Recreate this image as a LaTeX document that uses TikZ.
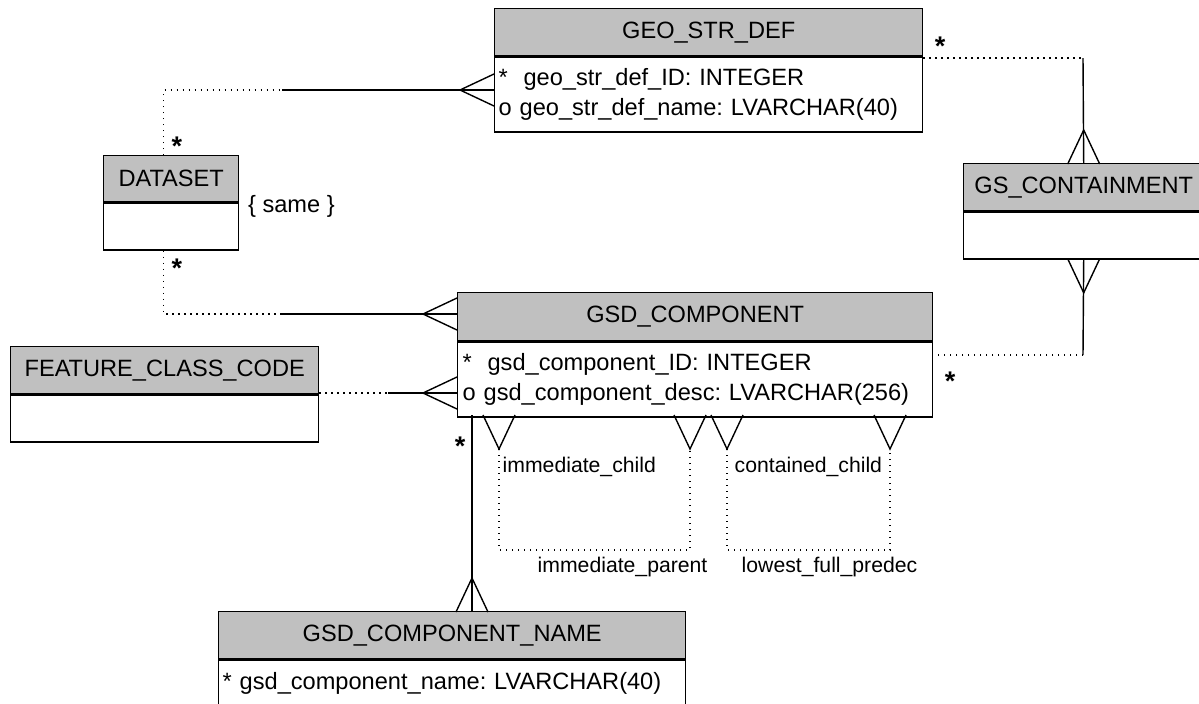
\documentclass[tikz,border=0pt]{standalone}
\usepackage{fontspec}
\setmainfont{Liberation Sans}
\usetikzlibrary{calc,positioning}
\definecolor{entgray}{RGB}{192,192,192}
\frenchspacing

\begin{document}
\begin{tikzpicture}[x=0.5pt,y=-0.5pt,line width=0.7pt,
  enthead/.style={draw,fill=entgray,anchor=north west,inner sep=0pt,font=\fontsize{11.8}{14}\selectfont},
  entbody/.style={draw,fill=white,anchor=north west,inner xsep=2pt,inner ysep=0pt,align=left,font=\fontsize{11.8}{15}\selectfont},
  rel/.style={line width=0.7pt},
  opt/.style={line width=0.6pt,dash pattern=on 0.6pt off 2.4pt},
  crow/.pic={\draw[line width=0.7pt] (34,-16) -- (0,0) -- (34,16);},
  mult/.style={font=\bfseries\fontsize{13.5}{13.5}\selectfont,inner sep=0pt},
  role/.style={font=\fontsize{10.6}{12}\selectfont,inner sep=0pt}]
  \useasboundingbox (0,0) rectangle (1199,703);

  \node[enthead,minimum width=214pt,minimum height=23.5pt] (geo-h) at (494,8) {GEO\_STR\_DEF};
  \node[entbody,text width=210pt,minimum height=37.5pt] (geo-b) at (geo-h.south west) {*\ \ geo\_str\_def\_ID: INTEGER\\o geo\_str\_def\_name: LVARCHAR(40)};

  \node[enthead,minimum width=67.5pt,minimum height=23pt] (ds-h) at (103,155) {DATASET};
  \node[entbody,text width=63.5pt,minimum height=23.5pt] (ds-b) at (ds-h.south west) {};
  \node[anchor=west,inner sep=0pt,font=\fontsize{11.8}{14}\selectfont] (same) at ($(ds-h.south east)+(8,4)$) {\{ same \}};

  \node[enthead,minimum width=237.5pt,minimum height=24pt] (gsd-h) at (457,292) {GSD\_COMPONENT};
  \node[entbody,text width=232.5pt,inner xsep=2.5pt,minimum height=37.5pt] (gsd-b) at (gsd-h.south west) {*\ \ gsd\_component\_ID: INTEGER\\o gsd\_component\_desc: LVARCHAR(256)};

  \node[enthead,minimum width=154pt,minimum height=23.5pt] (fcc-h) at (10,346) {FEATURE\_CLASS\_CODE};
  \node[entbody,text width=150pt,minimum height=23.5pt] (fcc-b) at (fcc-h.south west) {};

  \node[enthead,minimum width=120pt,minimum height=23.5pt] (gsc-h) at (963,163) {GS\_CONTAINMENT};
  \node[entbody,text width=116pt,minimum height=23.5pt] (gsc-b) at (gsc-h.south west) {};

  \node[enthead,minimum width=233.5pt,minimum height=23.5pt] (gsn-h) at (218,611) {GSD\_COMPONENT\_NAME};
  \node[entbody,text width=229.5pt,minimum height=23.5pt] (gsn-b) at (gsn-h.south west) {* gsd\_component\_name: LVARCHAR(40)};

  \coordinate (j1) at (282,90);
  \draw[opt] ($(ds-h.north west)!0.444!(ds-h.north east)$) |- (j1);
  \draw[rel] (j1) -- (j1 -| geo-b.west);
  \pic at ($(j1 -| geo-b.west)+(-34,0)$) {crow};

  \coordinate (j2) at (282,314);
  \draw[opt] ($(ds-b.south west)!0.444!(ds-b.south east)$) |- (j2);
  \draw[rel] (j2) -- (j2 -| gsd-h.west);
  \pic at ($(j2 -| gsd-h.west)+(-34,0)$) {crow};

  \coordinate (j3) at (388,393);
  \draw[opt] (j3 -| fcc-b.east) -- (j3);
  \draw[rel] (j3) -- (j3 -| gsd-b.west);
  \pic at ($(j3 -| gsd-b.west)+(-34,0)$) {crow};

  \coordinate (j4) at (1083,58);
  \draw[opt] (j4 -| geo-b.east) -- (j4);
  \draw[rel] (j4) -- (gsc-h.north);
  \pic[rotate=-90] at ($(gsc-h.north)+(0,-33)$) {crow};

  \coordinate (j5) at (1083,355);
  \draw[rel] (gsc-b.south) -- (j5);
  \draw[opt] (j5) -- (j5 -| gsd-b.east);
  \pic[rotate=90] at ($(gsc-b.south)+(0,33)$) {crow};

  \coordinate (j6) at (472,415);
  \draw[rel] (j6) -- (j6 |- gsn-h.north);
  \pic[rotate=-90] at ($(j6 |- gsn-h.north)+(0,-33)$) {crow};

  \coordinate (ic) at (499,449);
  \coordinate (ip) at (690,449);
  \coordinate (cc) at (727,449);
  \coordinate (lp) at (890,449);
  \draw[opt] (ic) -- ++(0,101) -| (ip);
  \draw[opt] (cc) -- ++(0,101) -| (lp);
  \pic[rotate=90] at (ic) {crow};
  \pic[rotate=90] at (ip) {crow};
  \pic[rotate=90] at (cc) {crow};
  \pic[rotate=90] at (lp) {crow};
  \node[role,anchor=west] (ic-l) at ($(ic)+(3,18)$) {immediate\_child};
  \node[role,anchor=west] (ip-l) at ($(ic)+(38,118)$) {immediate\_parent};
  \node[role,anchor=west] (cc-l) at ($(cc)+(7,18)$) {contained\_child};
  \node[role,anchor=west] (lp-l) at ($(cc)+(14,118)$) {lowest\_full\_predec};

  \node[mult] (m1) at (940,46) {*};
  \node[mult] (m2) at (177,146) {*};
  \node[mult] (m3) at (177,268) {*};
  \node[mult] (m4) at (950,381) {*};
  \node[mult] (m5) at (460,446) {*};
\end{tikzpicture}
\end{document}
